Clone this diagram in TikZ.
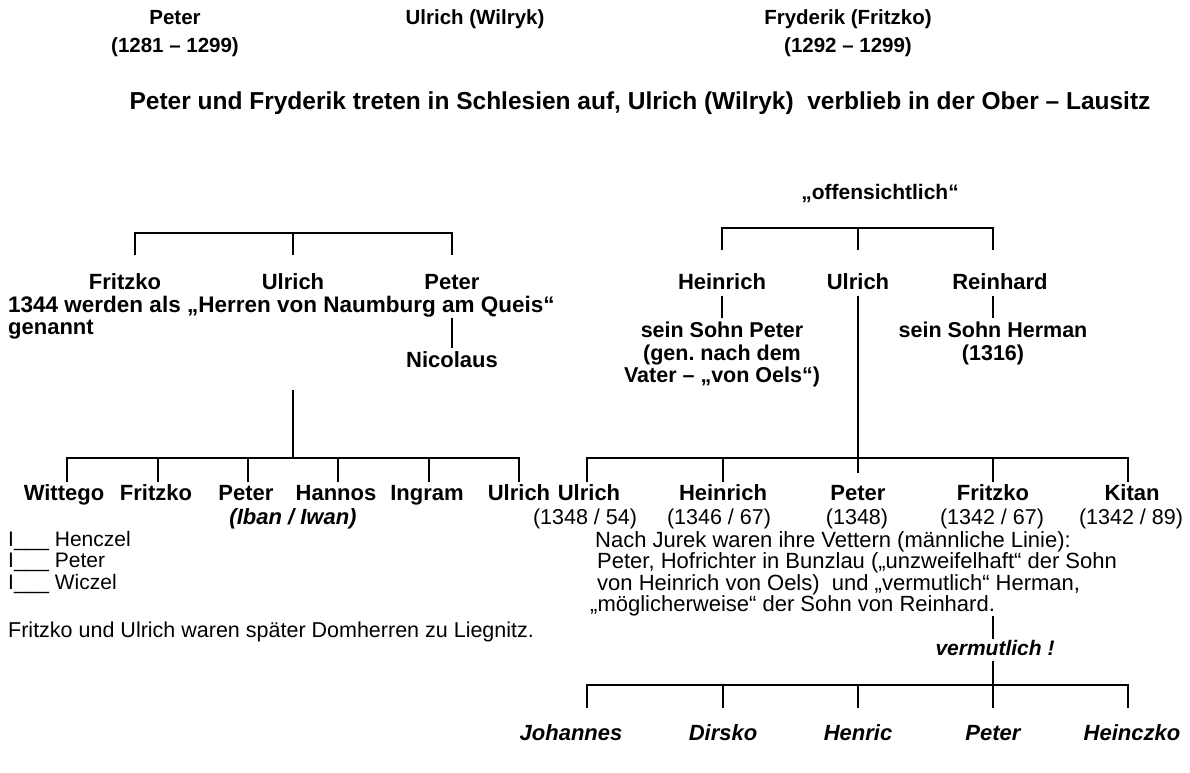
\documentclass[tikz,border=0pt]{standalone}
\usepackage{fontspec}
\setmainfont{Liberation Sans}
\usetikzlibrary{positioning}
\frenchspacing

\begin{document}
\begin{tikzpicture}[x=1pt, y=-1pt,
    person/.style={font=\bfseries\fontsize{22}{24}\selectfont, inner sep=0pt, text height=16pt, text depth=5pt},
    head/.style={person, font=\bfseries\fontsize{20.5}{24}\selectfont},
    itperson/.style={person, font=\bfseries\itshape\fontsize{22}{24}\selectfont},
    sub/.style={font=\bfseries\fontsize{21.5}{22.5}\selectfont, inner sep=0pt, align=center},
    plain/.style={font=\fontsize{21.5}{21.5}\selectfont, inner sep=0pt, text height=16pt, text depth=5pt},
    para/.style={font=\fontsize{22}{21.5}\selectfont, inner sep=0pt, align=left, anchor=north west},
    line/.style={draw=black, line width=1.6pt}]

    \useasboundingbox (0,0) rectangle (1190,772);

    % Kopfzeile
    \node [head] (tpeter) at (175,19) {Peter};
    \node [head] (tpeterd) at (175,47) {(1281 – 1299)};
    \node [head] (tulrich) at (475,19) {Ulrich (Wilryk)};
    \node [head] (tfryd) at (848,19) {Fryderik (Fritzko)};
    \node [head] (tfrydd) at (848,47) {(1292 – 1299)};
    \node [person, font=\bfseries\fontsize{24.5}{26}\selectfont] (intro) at (640,104) {Peter und Fryderik treten in Schlesien auf, Ulrich (Wilryk)\ \ verblieb in der Ober – Lausitz};

    % linker Zweig
    \node [person] (lfritzko) at (125,284) {Fritzko};
    \node [person] (lulrich) at (293,284) {Ulrich};
    \node [person] (lpeter) at (452,284) {Peter};
    \node [person, anchor=west, font=\bfseries\fontsize{22.5}{24}\selectfont] (naumburg) at (8,307) {1344 werden als „Herren von Naumburg am Queis“};
    \node [person, anchor=west] (genannt) at (8,329) {genannt};
    \node [person] (nicolaus) at (452,362) {Nicolaus};
    \coordinate (lbar) at (293,233);
    \coordinate (lstem) at (293,390);
    \coordinate (lkids) at (293,458);

    \node [person] (wittego) at (64,495) {Wittego};
    \node [person] (lfritzkok) at (156,495) {Fritzko};
    \node [person] (lpeterk) at (246,495) {Peter};
    \node [person] (hannos) at (336,495) {Hannos};
    \node [person] (ingram) at (427,495) {Ingram};
    \node [person] (lulrichk) at (519,495) {Ulrich};
    \node [itperson] (iban) at (293,519) {(Iban / Iwan)};
    \node [para, font=\fontsize{21}{21.5}\selectfont] (enkel) at (8,531) {I\_\_\_ Henczel\\I\_\_\_ Peter\\I\_\_\_ Wiczel};
    \node [plain, anchor=west] (domherren) at (8,632) {Fritzko und Ulrich waren später Domherren zu Liegnitz.};

    % rechter Zweig
    \node [person, font=\bfseries\fontsize{21}{24}\selectfont] (offen) at (880,194) {„offensichtlich“};
    \node [person] (rheinrich) at (722,284) {Heinrich};
    \node [person] (rulrich) at (858,284) {Ulrich};
    \node [person] (rreinhard) at (1000,284) {Reinhard};
    \node [sub, anchor=north] (hsohn) at (722,322) {sein Sohn Peter\\(gen. nach dem\\Vater – „von Oels“)};
    \node [sub, anchor=north] (rsohn) at (993,322) {sein Sohn Herman\\(1316)};
    \coordinate (rbar) at (858,228);
    \coordinate (rkids) at (858,458);

    \node [person] (rulrichk) at (589,495) {Ulrich};
    \node [person] (rheinrichk) at (723,495) {Heinrich};
    \node [person] (rpeterk) at (858,495) {Peter};
    \node [person] (rfritzkok) at (993,495) {Fritzko};
    \node [person] (kitan) at (1132,495) {Kitan};
    \node [plain] (d1) at (585,519) {(1348 / 54)};
    \node [plain] (d2) at (719,519) {(1346 / 67)};
    \node [plain] (d3) at (857,519) {(1348)};
    \node [plain] (d4) at (992,519) {(1342 / 67)};
    \node [plain] (d5) at (1131,519) {(1342 / 89)};
    \node [para] (vettern) at (590,531) {\hspace*{5pt}Nach Jurek waren ihre Vettern (männliche Linie):\\
        \hspace*{7pt}Peter, Hofrichter in Bunzlau („unzweifelhaft“ der Sohn\\
        \hspace*{7pt}von Heinrich von Oels)\ \ und „vermutlich“ Herman,\\
        „möglicherweise“ der Sohn von Reinhard.};
    \node [itperson, font=\bfseries\itshape\fontsize{21}{24}\selectfont] (vermut) at (995,650) {vermutlich !};
    \coordinate (bkids) at (993,685);

    \node [itperson] (johannes) at (571,735) {Johannes};
    \node [itperson] (dirsko) at (723,735) {Dirsko};
    \node [itperson] (henric) at (858,735) {Henric};
    \node [itperson] (bpeter) at (993,735) {Peter};
    \node [itperson] (heinczko) at (1132,735) {Heinczko};

    % Linien links
    \path [line] ([xshift=10pt, yshift=18pt]lfritzko.north) |- (lbar) -| ([yshift=18pt]lpeter.north);
    \path [line] (lbar) -- ([yshift=18pt]lulrich.north);
    \path [line] (nicolaus.north |- naumburg.south) -- ([yshift=3pt]nicolaus.north);
    \path [line] (lstem) -- (lkids);
    \path [line] ([xshift=3pt, yshift=2pt]wittego.north) |- (lkids) -| ([yshift=2pt]lulrichk.north);
    \foreach \k in {lfritzkok, lpeterk, hannos, ingram}
        \path [line] ([xshift=2pt]\k.north |- lkids) -- ([xshift=2pt, yshift=2pt]\k.north);

    % Linien rechts
    \path [line] ([yshift=23pt]rheinrich.north) |- (rbar) -| ([xshift=-7pt, yshift=23pt]rreinhard.north);
    \path [line] (rbar) -- ([yshift=23pt]rulrich.north);
    \path [line] ([yshift=-1pt]rheinrich.south) -- ([yshift=4pt]hsohn.north);
    \path [line] ([xshift=-7pt, yshift=-1pt]rreinhard.south) -- ([yshift=4pt]rsohn.north);
    \path [line] ([yshift=-1pt]rulrich.south) -- ([yshift=11pt]rpeterk.north);
    \path [line] ([xshift=-2pt, yshift=2pt]rulrichk.north) |- (rkids) -| ([xshift=-4pt, yshift=2pt]kitan.north);
    \foreach \k in {rheinrichk, rfritzkok}
        \path [line] (\k.north |- rkids) -- ([yshift=2pt]\k.north);

    % vermutlich
    \path [line] (vettern.south -| bkids) -- (vermut.north -| bkids);
    \path [line] (vermut.south -| bkids) -- (bkids);
    \path [line] ([xshift=16pt, yshift=16pt]johannes.north) |- (bkids) -| ([xshift=-4pt, yshift=16pt]heinczko.north);
    \foreach \k in {dirsko, henric, bpeter}
        \path [line] (\k.north |- bkids) -- ([yshift=16pt]\k.north);
\end{tikzpicture}
\end{document}
